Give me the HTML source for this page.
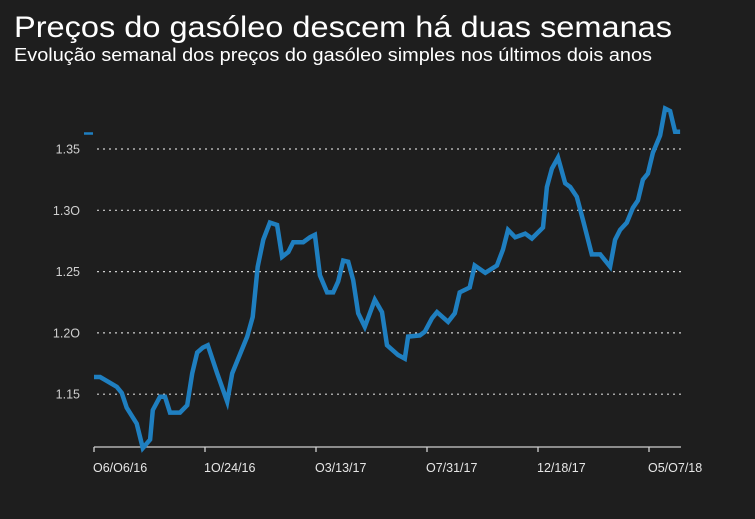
<!DOCTYPE html>
<html><head><meta charset="utf-8"><style>
html,body{margin:0;padding:0;background:#1e1e1e;}
svg{display:block;font-family:"Liberation Sans",sans-serif;}
</style></head><body>
<svg id="chart" width="755" height="519" viewBox="0 0 755 519">
<rect width="755" height="519" fill="#1e1e1e"/>
<text x="14" y="37" font-size="30" fill="#fff" textLength="658" lengthAdjust="spacingAndGlyphs">Preços do gasóleo descem há duas semanas</text>
<text x="14" y="61" font-size="18" fill="#fff" textLength="638" lengthAdjust="spacingAndGlyphs">Evolução semanal dos preços do gasóleo simples nos últimos dois anos</text>
<line x1="84" y1="133.5" x2="93" y2="133.5" stroke="#1f7fc0" stroke-width="2.5"/>
<g id="grid"></g><g id="xaxis"></g><g id="series"></g>
</svg>
<script>
const weeks=[0,1.1,4.1,5.0,5.9,7.7,8.8,10.1,10.6,11.9,12.8,13.7,15.5,16.8,17.7,18.6,19.6,20.5,22.2,24.0,24.9,25.9,27.6,28.6,29.5,30.5,31.7,33.0,33.9,35.0,35.9,37.7,38.9,39.8,40.7,42.0,43.1,44.0,44.9,45.8,46.7,47.6,48.8,50.6,51.9,52.8,54.8,56.0,56.6,58.7,59.6,60.9,61.8,63.8,65.0,65.9,67.7,68.6,70.5,72.6,73.7,74.6,75.9,77.7,78.9,80.9,81.6,82.5,83.6,84.9,85.8,87.0,88.1,89.7,91.2,93.0,93.9,94.8,96.0,97.1,98.0,98.9,99.8,100.7,102.0,102.9,103.8,104.7,105.6];
const prices=[1.164,1.164,1.156,1.151,1.139,1.126,1.106,1.113,1.137,1.148,1.148,1.135,1.135,1.141,1.167,1.184,1.188,1.190,1.167,1.144,1.167,1.178,1.197,1.213,1.254,1.276,1.290,1.288,1.262,1.266,1.274,1.274,1.278,1.280,1.247,1.233,1.233,1.242,1.259,1.258,1.243,1.216,1.205,1.227,1.217,1.190,1.182,1.179,1.197,1.198,1.201,1.212,1.217,1.209,1.216,1.233,1.237,1.255,1.249,1.255,1.268,1.284,1.278,1.281,1.277,1.286,1.319,1.334,1.343,1.322,1.319,1.311,1.292,1.264,1.264,1.254,1.276,1.284,1.290,1.302,1.308,1.325,1.330,1.347,1.361,1.383,1.381,1.364,1.364];
const yTicks=[1.15,1.20,1.25,1.30,1.35];
const yTickLabels=["1.15","1.2O","1.25","1.3O","1.35"];
const xTickWeeks=[0,20,40,60,80,100];
const xTickLabels=["O6/O6/16","1O/24/16","O3/13/17","O7/31/17","12/18/17","O5/O7/18"];
const NS="http://www.w3.org/2000/svg";
const X=w=>94+w*5.55;
const Y=v=>149+(1.35-v)*1226;
function mk(t,a,p){const e=document.createElementNS(NS,t);for(const k in a)e.setAttribute(k,a[k]);p.appendChild(e);return e;}
const grid=document.getElementById('grid'),xa=document.getElementById('xaxis'),se=document.getElementById('series');
yTicks.forEach((v,i)=>{
 const l=mk('line',{x1:97,x2:681,y1:Y(v),y2:Y(v),stroke:'#cfcfcf','stroke-width':1.2,'stroke-dasharray':'2 4'},grid);
 
 
 const t=mk('text',{x:80,y:Y(v)+4.5,'font-size':12.5,fill:'#cfcfcf','text-anchor':'end'},grid);
 t.textContent=yTickLabels[i];
 
 
});
const base=mk('line',{x1:94,x2:681,y1:447,y2:447,stroke:'#cfcfcf','stroke-width':1.3},xa);


xTickWeeks.forEach((w,i)=>{
 const tk=mk('line',{x1:X(w),x2:X(w),y1:447,y2:452,stroke:'#cfcfcf','stroke-width':1.3},xa);
 
 
 const t=mk('text',{x:X(w)-1,y:472,'font-size':12.5,fill:'#e6e6e6'},xa);
 t.textContent=xTickLabels[i];
 
 
});
const pts=weeks.map((w,i)=>X(w).toFixed(1)+','+Y(prices[i]).toFixed(1)).join(' ');
const pl=mk('polyline',{points:pts,fill:'none',stroke:'#1f7fc0','stroke-width':4.5,'stroke-linejoin':'miter'},se);


</script>
</body></html>
